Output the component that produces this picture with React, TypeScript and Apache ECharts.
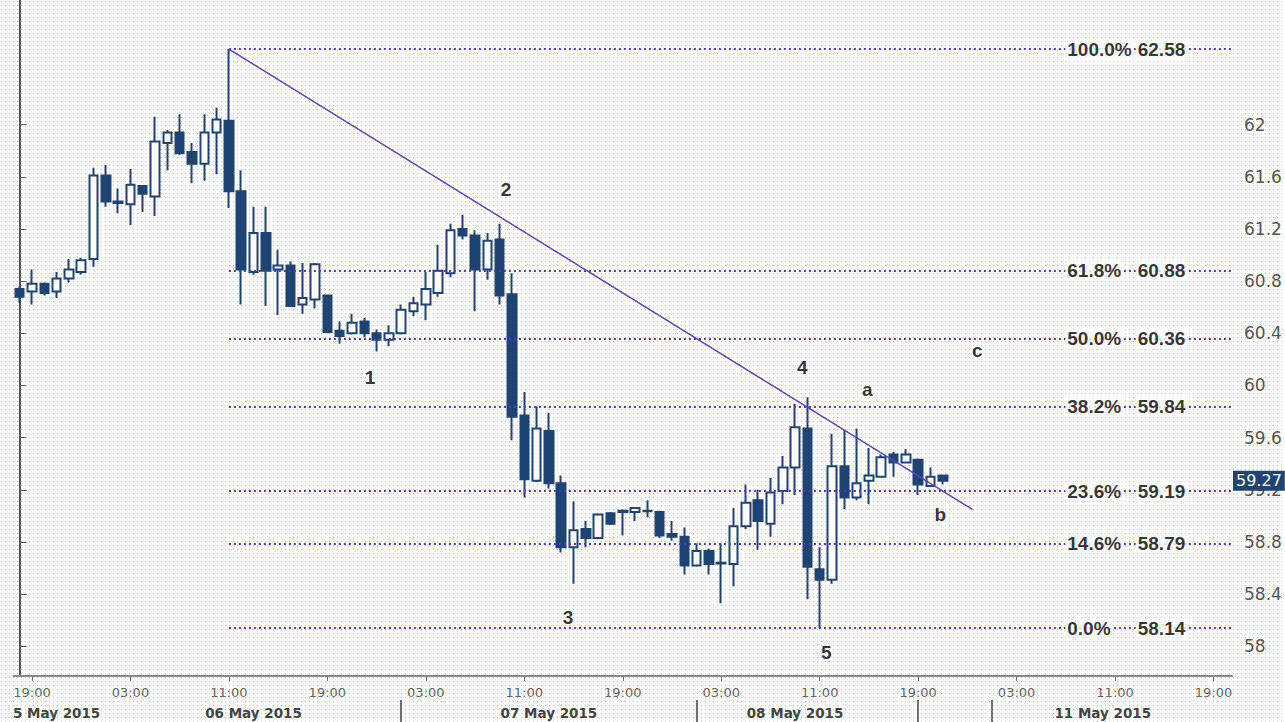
import React, { useEffect, useRef } from 'react';
import * as echarts from 'echarts';

// hourly slots shown on the category axis (weekend skipped)
const sessions = [
  { date: '2015-05-05', from: 18, to: 23 },
  { date: '2015-05-06', from: 0, to: 23 },
  { date: '2015-05-07', from: 0, to: 23 },
  { date: '2015-05-08', from: 0, to: 23 },
  { date: '2015-05-09', from: 0, to: 0 },
  { date: '2015-05-11', from: 1, to: 20 },
];
const hourLabelHours = [3, 11, 19];

const opens = [
  60.74, 60.72, 60.78, 60.72, 60.82, 60.87, 60.97, 61.61, 61.40, 61.39,
  61.53, 61.45, 61.86, 61.94, 61.79, 61.70, 61.94, 62.03, 61.49, 60.87,
  61.17, 60.89, 60.92, 60.62, 60.66, 60.69, 60.42, 60.40, 60.49, 60.40,
  60.35, 60.40, 60.57, 60.62, 60.71, 60.86, 61.20, 61.15, 60.89, 61.12,
  60.70, 59.77, 59.27, 59.65, 59.25, 58.76, 58.90, 58.83, 59.02, 59.03,
  59.03, 59.04, 59.03, 58.86, 58.84, 58.62, 58.73, 58.64, 58.63, 58.92,
  59.12, 58.94, 59.19, 59.37, 59.67, 58.59, 58.51, 59.38, 59.14, 59.27,
  59.30, 59.47, 59.41, 59.43, 59.23, 59.31,
];
const closes = [
  60.68, 60.78, 60.71, 60.82, 60.89, 60.96, 61.61, 61.41, 61.41, 61.54,
  61.47, 61.87, 61.94, 61.78, 61.70, 61.94, 62.04, 61.49, 60.89, 61.17,
  60.88, 60.92, 60.61, 60.67, 60.93, 60.41, 60.38, 60.48, 60.40, 60.35,
  60.40, 60.58, 60.63, 60.74, 60.88, 61.19, 61.15, 60.89, 61.11, 60.69,
  59.76, 59.28, 59.67, 59.25, 58.76, 58.89, 58.83, 59.01, 58.94, 59.04,
  59.06, 59.035, 58.85, 58.84, 58.62, 58.73, 58.63, 58.635, 58.92, 59.10,
  58.96, 59.18, 59.37, 59.68, 58.61, 58.51, 59.38, 59.14, 59.25, 59.31,
  59.45, 59.41, 59.47, 59.24, 59.30, 59.27,
];
const lows = [
  60.63, 60.62, 60.69, 60.67, 60.79, 60.85, 60.91, 61.37, 61.32, 61.23,
  61.33, 61.30, 61.65, 61.77, 61.55, 61.57, 61.62, 61.36, 60.62, 60.85,
  60.61, 60.54, 60.61, 60.55, 60.59, 60.40, 60.32, 60.39, 60.37, 60.26,
  60.30, 60.39, 60.53, 60.50, 60.68, 60.83, 61.12, 60.57, 60.81, 60.62,
  59.58, 59.14, 59.26, 59.21, 58.72, 58.48, 58.76, 58.82, 58.93, 58.85,
  58.96, 58.99, 58.83, 58.81, 58.55, 58.61, 58.55, 58.33, 58.46, 58.90,
  58.74, 58.84, 59.09, 59.16, 58.36, 58.14, 58.48, 59.05, 59.12, 59.09,
  59.30, 59.30, 59.41, 59.16, 59.23, 59.24,
];
const highs = [
  60.76, 60.89, 60.79, 60.87, 60.97, 60.98, 61.67, 61.69, 61.51, 61.66,
  61.53, 62.06, 61.96, 62.08, 61.86, 62.08, 62.13, 62.58, 61.65, 61.37,
  61.37, 61.04, 60.95, 60.94, 60.94, 60.69, 60.49, 60.55, 60.52, 60.43,
  60.46, 60.62, 60.68, 60.87, 61.08, 61.24, 61.31, 61.19, 61.17, 61.24,
  60.86, 59.95, 59.84, 59.79, 59.31, 59.11, 58.96, 59.02, 59.03, 59.05,
  59.06, 59.12, 59.04, 58.96, 58.91, 58.79, 58.75, 58.79, 59.06, 59.24,
  59.20, 59.29, 59.46, 59.86, 59.91, 58.76, 59.63, 59.66, 59.67, 59.52,
  59.47, 59.49, 59.51, 59.44, 59.37, 59.31,
];

const dateLabelSlots = ['2015-05-05 21:00', '2015-05-06 13:00', '2015-05-07 13:00', '2015-05-08 09:00', '2015-05-11 10:00'];
const dateLabelTexts = ['5 May 2015', '06 May 2015', '07 May 2015', '08 May 2015', '11 May 2015'];
const daySeparatorSlots = ['2015-05-07 01:00', '2015-05-08 01:00', '2015-05-08 19:00', '2015-05-11 01:00'];

const yTickValues = [58, 58.4, 58.8, 59.2, 59.6, 60, 60.4, 60.8, 61.2, 61.6, 62];

const fibPct = ['100.0%', '61.8%', '50.0%', '38.2%', '23.6%', '14.6%', '0.0%'];
const fibVal = [62.58, 60.88, 60.36, 59.84, 59.19, 58.79, 58.14];
const fibStartSlot = 17;
const fibPctSlot = 84.95;
const fibValSlot = 94.87;

const trendSlots = [17, 77.4];
const trendPrices = [62.58, 59.05];

const waveTexts = ['1', '2', '3', '4', '5', 'a', 'b', 'c'];
const waveSlots = [28.47, 39.52, 44.56, 63.58, 65.53, 68.86, 74.79, 77.8];
const wavePrices = [60.06, 61.5, 58.22, 60.14, 57.95, 59.97, 59.01, 60.27];

const categories: string[] = [];
sessions.forEach((s) => {
  for (let h = s.from; h <= s.to; h++) {
    categories.push(`${s.date} ${String(h).padStart(2, '0')}:00`);
  }
});

const CANDLE = '#1f4373';
const FIB = '#5236cf';
const TREND = '#5a44c9';

const dotBg =
  "url(\"data:image/svg+xml;utf8,<svg xmlns='http://www.w3.org/2000/svg' width='4' height='4'><rect x='1' y='1' width='1' height='1' fill='%23c4c4c4'/></svg>\")";

export default function App() {
  const ref = useRef<HTMLDivElement>(null);
  useEffect(() => {
    if (!ref.current) return;
    const chart = echarts.init(ref.current, undefined, { renderer: 'svg' });
    const candleData = opens.map((o, i) => [o, closes[i], lows[i], highs[i]]);
    const dateIdx = dateLabelSlots.map((s) => categories.indexOf(s));
    const sepIdx = daySeparatorSlots.map((s) => categories.indexOf(s));
    const lastClose = closes[closes.length - 1];
    const isHourLabel = (i: number) => hourLabelHours.includes(parseInt(categories[i].slice(11, 13), 10));

    const fibMarks = fibVal.map((v) => [
      { coord: [fibStartSlot, v] },
      { coord: [categories.length - 0.5, v] },
    ]);

    chart.setOption({
      animation: false,
      backgroundColor: 'transparent',
      grid: { left: 13.5, right: 53, top: 0, bottom: 46, containLabel: false },
      xAxis: [
        {
          type: 'category',
          data: categories,
          boundaryGap: true,
          position: 'bottom',
          axisLine: { show: true, lineStyle: { color: '#8a8a8a', width: 2 } },
          axisTick: {
            show: true,
            alignWithLabel: true,
            length: 5,
            interval: isHourLabel,
            lineStyle: { color: '#777' },
          },
          axisLabel: {
            interval: isHourLabel,
            formatter: (v: string) => v.slice(11),
            color: '#666',
            fontSize: 13,
            fontFamily: 'DejaVu Sans',
            margin: 10,
          },
          splitLine: { show: false },
        },
        {
          type: 'category',
          data: categories,
          boundaryGap: true,
          position: 'bottom',
          offset: 24,
          axisLine: { show: false },
          axisTick: {
            show: true,
            alignWithLabel: true,
            length: 22,
            interval: (i: number) => sepIdx.includes(i),
            lineStyle: { color: '#444', width: 1.5 },
          },
          axisLabel: {
            interval: (i: number) => dateIdx.includes(i),
            formatter: (_v: string, i: number) => {
              const k = dateIdx.indexOf(i);
              return k >= 0 ? dateLabelTexts[k] : '';
            },
            color: '#444',
            fontSize: 13.5,
            fontWeight: 'bold',
            fontFamily: 'DejaVu Sans',
            margin: 6,
          },
          splitLine: { show: false },
        },
        {
          type: 'value',
          show: false,
          min: -0.5,
          max: categories.length - 0.5,
          splitLine: { show: false },
        },
      ],
      yAxis: {
        type: 'value',
        position: 'right',
        min: 57.772,
        max: 62.956,
        splitLine: { show: false },
        axisLine: { show: true, lineStyle: { color: '#555', width: 2 } },
        axisTick: { show: true, length: 7, customValues: yTickValues, lineStyle: { color: '#666' } },
        axisLabel: {
          customValues: yTickValues,
          formatter: (v: number) => String(Math.round(v * 10) / 10),
          color: '#555',
          fontSize: 17,
          fontFamily: 'DejaVu Sans',
          margin: 12,
        },
      },
      series: [
        {
          type: 'candlestick',
          xAxisIndex: 0,
          yAxisIndex: 0,
          data: candleData,
          barWidth: 9,
          itemStyle: {
            color: '#ffffff',
            color0: CANDLE,
            borderColor: CANDLE,
            borderColor0: CANDLE,
            borderWidth: 2,
          },
          markLine: {
            silent: true,
            symbol: ['none', 'none'],
            lineStyle: { width: 0, color: 'transparent' },
            data: [{ yAxis: lastClose }],
            label: {
              show: true,
              position: 'end',
              distance: 1,
              formatter: () => lastClose.toFixed(2),
              backgroundColor: CANDLE,
              color: '#fff',
              fontSize: 16,
              fontFamily: 'DejaVu Sans',
              padding: [2, 3],
            },
          },
        },
        {
          type: 'line',
          xAxisIndex: 2,
          yAxisIndex: 0,
          data: trendSlots.map((s, i) => [s, trendPrices[i]]),
          symbol: 'none',
          lineStyle: { color: TREND, width: 1.5 },
          silent: true,
          z: 4,
          markLine: {
            silent: true,
            symbol: ['none', 'none'],
            lineStyle: { color: FIB, width: 2, type: [2, 3] },
            label: { show: false },
            data: fibMarks,
          },
        },
        {
          type: 'scatter',
          xAxisIndex: 2,
          yAxisIndex: 0,
          symbolSize: 0.1,
          itemStyle: { color: 'transparent' },
          silent: true,
          z: 5,
          data: fibPct.map((t, i) => ({ value: [fibPctSlot, fibVal[i]], name: t })),
          label: {
            show: true,
            position: 'right',
            distance: 0,
            formatter: (p: any) => p.name,
            color: '#000',
            fontSize: 19,
            fontWeight: 'bold',
            fontFamily: 'Liberation Sans',
            backgroundColor: '#fff',
            padding: [0, 2],
          },
        },
        {
          type: 'scatter',
          xAxisIndex: 2,
          yAxisIndex: 0,
          symbolSize: 0.1,
          itemStyle: { color: 'transparent' },
          silent: true,
          z: 5,
          data: fibVal.map((v) => ({ value: [fibValSlot, v], name: v.toFixed(2) })),
          label: {
            show: true,
            position: 'left',
            distance: 0,
            formatter: (p: any) => p.name,
            color: '#000',
            fontSize: 19,
            fontWeight: 'bold',
            fontFamily: 'Liberation Sans',
            backgroundColor: '#fff',
            padding: [0, 2],
          },
        },
        {
          type: 'scatter',
          xAxisIndex: 2,
          yAxisIndex: 0,
          symbolSize: 0.1,
          itemStyle: { color: 'transparent' },
          silent: true,
          z: 5,
          data: waveTexts.map((t, i) => ({ value: [waveSlots[i], wavePrices[i]], name: t })),
          label: {
            show: true,
            position: 'inside',
            formatter: (p: any) => p.name,
            color: '#000',
            fontSize: 19,
            fontWeight: 'bold',
            fontFamily: 'Liberation Sans',
          },
        },
      ],
    });
    return () => chart.dispose();
  }, []);

  return (
    <div
      ref={ref}
      style={{
        position: 'absolute',
        left: 0,
        top: 0,
        width: 1285,
        height: 722,
        backgroundColor: '#fff',
        backgroundImage: dotBg,
        backgroundSize: '4px 4px',
      }}
    />
  );
}
